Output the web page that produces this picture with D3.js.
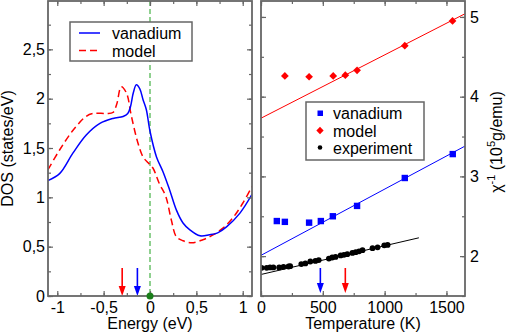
<!DOCTYPE html>
<html>
<head>
<meta charset="utf-8">
<script src="https://cdn.jsdelivr.net/npm/d3@7"></script>
<style>
  body { margin: 0; background: #fff; }
  svg text { font-family: "Liberation Sans", Arial, Helvetica, sans-serif; }
</style>
</head>
<body>
<div id="viz"></div>
<script>
// ---- Data: DOS panel ----
const vanEnergy = [-1.1, -0.975, -0.83, -0.69, -0.54, -0.40, -0.29, -0.24, -0.21, -0.18, -0.147, -0.11, -0.075, -0.04, 0, 0.07, 0.14, 0.21, 0.285, 0.356, 0.43, 0.54, 0.64, 0.73, 0.825, 0.97, 1.1];
const vanDos    = [1.17, 1.24, 1.45, 1.63, 1.75, 1.80, 1.82, 1.85, 1.92, 2.06, 2.14, 2.10, 1.99, 1.89, 1.67, 1.41, 1.26, 1.08, 0.87, 0.74, 0.67, 0.61, 0.62, 0.64, 0.70, 0.84, 1.03];
const modEnergy = [-1.1, -0.975, -0.83, -0.69, -0.615, -0.47, -0.40, -0.36, -0.31, -0.255, -0.2, -0.13, -0.075, -0.02, 0.03, 0.10, 0.17, 0.23, 0.285, 0.356, 0.45, 0.57, 0.68, 0.79, 0.90, 1.0, 1.1];
const modDos    = [1.28, 1.48, 1.68, 1.82, 1.85, 1.85, 1.86, 1.94, 2.12, 2.06, 1.82, 1.55, 1.41, 1.35, 1.30, 1.14, 1.01, 0.77, 0.60, 0.56, 0.54, 0.57, 0.62, 0.69, 0.80, 0.94, 1.11];
const dosArrowE = [-0.30, -0.136];          // model, vanadium
const fermiE = 0;
const dosXTicks = [-1, -0.5, 0, 0.5, 1];
const dosYTicks = [0, 0.5, 1, 1.5, 2, 2.5];

// ---- Data: susceptibility panel ----
const vanT   = [128, 193, 389, 484, 581, 777, 1163, 1551];
const vanChi = [2.44, 2.43, 2.42, 2.44, 2.50, 2.63, 2.98, 3.28];
const modT   = [193, 389, 584, 682, 777, 1163, 1549];
const modChi = [4.26, 4.25, 4.26, 4.27, 4.33, 4.64, 4.95];
const expT   = [5, 46, 73, 100, 147, 182, 223, 236, 326, 359, 399, 440, 467, 549, 576, 603, 644, 671, 698, 739, 766, 793, 821, 902, 943, 997, 1024];
const expChi = [1.854, 1.854, 1.858, 1.858, 1.858, 1.866, 1.870, 1.874, 1.90, 1.908, 1.933, 1.94, 1.95, 1.97, 1.983, 1.99, 2.009, 2.017, 2.025, 2.04, 2.05, 2.06, 2.075, 2.10, 2.11, 2.135, 2.14];
const vanFitT = [0, 1650], vanFitChi = [2.01, 3.38];
const modFitT = [0, 1650], modFitChi = [3.73, 5.04];
const expFitT = [0, 1277], expFitChi = [1.77, 2.23];
const chiArrowT = [480, 682];               // vanadium, model
const tXTicks = [0, 500, 1000, 1500];
const chiYTicks = [2, 3, 4, 5];

// ---- Setup ----
const W = 507, H = 336;
const BLUE = "#0000ff", RED = "#ff0000", AXIS = "#666";
const fmt = d => String(d).replace(".", ",");

const svg = d3.select("#viz").append("svg")
  .attr("width", W).attr("height", H)
  .style("background", "#fff");

const defs = svg.append("defs");

// scales
const xE = d3.scaleLinear().domain([-1.1, 1.1]).range([48, 252]);
const yD = d3.scaleLinear().domain([0, 2.99]).range([296, 1]);
const xT = d3.scaleLinear().domain([0, 1650]).range([261, 465]);
const yC = d3.scaleLinear().domain([1.5, 5.2]).range([296, 1]);

// --- helpers ---
function styleAxis(g) {
  g.select(".domain").remove();
  g.selectAll("line").attr("stroke", AXIS).attr("stroke-width", 1.2);
  g.selectAll("text").attr("font-size", 16).attr("fill", "#000")
    .attr("font-family", "'Liberation Sans', Arial, sans-serif");
}
function range(a, b, s) { return d3.range(a, b + s / 2, s); }

function frameAxes(x, y, opt) {
  const [x0, x1] = x.range(), [y0, y1] = y.range();
  const g = svg.append("g");
  // bottom
  g.append("g").attr("transform", `translate(0,${y0})`)
    .call(d3.axisBottom(x).tickValues(opt.xMinor).tickSize(-3).tickFormat("")).call(styleAxis);
  g.append("g").attr("transform", `translate(0,${y0})`)
    .call(d3.axisBottom(x).tickValues(opt.xMajor).tickSize(-5).tickPadding(6).tickFormat(opt.xFmt)).call(styleAxis);
  // top
  g.append("g").attr("transform", `translate(0,${y1})`)
    .call(d3.axisTop(x).tickValues(opt.xMinor).tickSize(-3).tickFormat("")).call(styleAxis);
  g.append("g").attr("transform", `translate(0,${y1})`)
    .call(d3.axisTop(x).tickValues(opt.xMajor).tickSize(-5).tickFormat("")).call(styleAxis);
  // left
  g.append("g").attr("transform", `translate(${x0},0)`)
    .call(d3.axisLeft(y).tickValues(opt.yMinor).tickSize(-3).tickFormat("")).call(styleAxis);
  g.append("g").attr("transform", `translate(${x0},0)`)
    .call(d3.axisLeft(y).tickValues(opt.yMajor).tickSize(-5).tickPadding(3)
      .tickFormat(opt.labelsLeft ? opt.yFmt : "")).call(styleAxis);
  // right
  g.append("g").attr("transform", `translate(${x1},0)`)
    .call(d3.axisRight(y).tickValues(opt.yMinor).tickSize(-3).tickFormat("")).call(styleAxis);
  g.append("g").attr("transform", `translate(${x1},0)`)
    .call(d3.axisRight(y).tickValues(opt.yMajor).tickSize(-5).tickPadding(5)
      .tickFormat(opt.labelsLeft ? "" : opt.yFmt)).call(styleAxis);
  // frame
  g.append("rect").attr("x", x0).attr("y", y1).attr("width", x1 - x0).attr("height", y0 - y1)
    .attr("fill", "none").attr("stroke", AXIS).attr("stroke-width", 1.8);
}

function clip(id, x, y) {
  defs.append("clipPath").attr("id", id).append("rect")
    .attr("x", x.range()[0]).attr("y", y.range()[1])
    .attr("width", x.range()[1] - x.range()[0]).attr("height", y.range()[0] - y.range()[1]);
}
clip("clipL", xE, yD);
clip("clipR", xT, yC);

function arrow(g, x, yTop, yBot, color) {
  g.append("line").attr("x1", x).attr("x2", x).attr("y1", yTop).attr("y2", yBot - 8)
    .attr("stroke", color).attr("stroke-width", 1.6);
  g.append("path").attr("d", `M${x - 3.5},${yBot - 10}L${x + 3.5},${yBot - 10}L${x},${yBot}Z`)
    .attr("fill", color);
}

// ================= Left panel: DOS =================
const gL = svg.append("g").attr("clip-path", "url(#clipL)");

gL.append("line")
  .attr("x1", xE(fermiE)).attr("x2", xE(fermiE))
  .attr("y1", yD.range()[1]).attr("y2", yD.range()[0])
  .attr("stroke", "#8fd08f").attr("stroke-width", 2).attr("stroke-dasharray", "5,3");

const lineL = d3.line().curve(d3.curveCatmullRom.alpha(0.5));
gL.append("path")
  .attr("d", lineL(modEnergy.map((e, i) => [xE(e), yD(modDos[i])])))
  .attr("fill", "none").attr("stroke", RED).attr("stroke-width", 1.5).attr("stroke-dasharray", "7,4");
gL.append("path")
  .attr("d", lineL(vanEnergy.map((e, i) => [xE(e), yD(vanDos[i])])))
  .attr("fill", "none").attr("stroke", BLUE).attr("stroke-width", 1.5);

const gLA = svg.append("g");
arrow(gLA, xE(dosArrowE[0]), 268, 296, RED);
arrow(gLA, xE(dosArrowE[1]), 268, 296, BLUE);

frameAxes(xE, yD, {
  xMajor: dosXTicks, xMinor: range(-1, 1, 0.25), xFmt: fmt,
  yMajor: dosYTicks, yMinor: range(0, 2.75, 0.25), yFmt: fmt, labelsLeft: true
});

svg.append("circle").attr("cx", xE(fermiE)).attr("cy", yD(0)).attr("r", 3.5).attr("fill", "#1a7f1a");

// legend left
const lgL = svg.append("g");
lgL.append("rect").attr("x", 70).attr("y", 22).attr("width", 122).attr("height", 39)
  .attr("fill", "#fff").attr("stroke", AXIS).attr("stroke-width", 1.5);
lgL.append("line").attr("x1", 79).attr("x2", 100).attr("y1", 33).attr("y2", 33)
  .attr("stroke", BLUE).attr("stroke-width", 1.5);
lgL.append("line").attr("x1", 79).attr("x2", 100).attr("y1", 50.5).attr("y2", 50.5)
  .attr("stroke", RED).attr("stroke-width", 1.5).attr("stroke-dasharray", "7,4");
lgL.append("text").attr("x", 112).attr("y", 39).attr("font-size", 16).text("vanadium");
lgL.append("text").attr("x", 112).attr("y", 56.5).attr("font-size", 16).text("model");

// axis titles left
svg.append("text").attr("x", 150).attr("y", 329).attr("text-anchor", "middle")
  .attr("font-size", 16).text("Energy (eV)");
svg.append("text").attr("transform", "translate(13,148.5) rotate(-90)").attr("text-anchor", "middle")
  .attr("font-size", 16).text("DOS (states/eV)");

// ================= Right panel: susceptibility =================
const gR = svg.append("g").attr("clip-path", "url(#clipR)");
const lineR = d3.line().x(d => xT(d[0])).y(d => yC(d[1]));
const fits = [[vanFitT, vanFitChi, BLUE], [modFitT, modFitChi, RED], [expFitT, expFitChi, "#000"]];
fits.forEach(([t, c, col]) => {
  gR.append("path").attr("d", lineR(t.map((v, i) => [v, c[i]])))
    .attr("fill", "none").attr("stroke", col).attr("stroke-width", 1);
});

gR.selectAll(".exp").data(expT).join("circle")
  .attr("cx", d => xT(d)).attr("cy", (d, i) => yC(expChi[i])).attr("r", 2.9).attr("fill", "#000");
gR.selectAll(".van").data(vanT).join("rect")
  .attr("x", d => xT(d) - 3.2).attr("y", (d, i) => yC(vanChi[i]) - 3.2)
  .attr("width", 6.4).attr("height", 6.4).attr("fill", BLUE);
const diamond = d3.symbol().type(d3.symbolDiamond2).size(38);
gR.selectAll(".mod").data(modT).join("path")
  .attr("transform", (d, i) => `translate(${xT(d)},${yC(modChi[i])})`)
  .attr("d", diamond).attr("fill", RED);

const gRA = svg.append("g");
arrow(gRA, xT(chiArrowT[0]), 268, 293, BLUE);
arrow(gRA, xT(chiArrowT[1]), 268, 293, RED);

frameAxes(xT, yC, {
  xMajor: tXTicks, xMinor: range(0, 1500, 250), xFmt: d => d,
  yMajor: chiYTicks, yMinor: range(1.5, 5, 0.5), yFmt: d => d, labelsLeft: false
});

// legend right
const lgR = svg.append("g");
lgR.append("rect").attr("x", 306).attr("y", 102).attr("width", 118).attr("height", 58)
  .attr("fill", "#fff").attr("stroke", AXIS).attr("stroke-width", 1.5);
lgR.append("rect").attr("x", 317.5).attr("y", 110.5).attr("width", 5.5).attr("height", 5.5).attr("fill", BLUE);
lgR.append("path").attr("transform", "translate(320,130.5)").attr("d", d3.symbol().type(d3.symbolDiamond2).size(34)).attr("fill", RED);
lgR.append("circle").attr("cx", 320).attr("cy", 147.5).attr("r", 2.3).attr("fill", "#000");
lgR.append("text").attr("x", 333).attr("y", 119).attr("font-size", 16).text("vanadium");
lgR.append("text").attr("x", 333).attr("y", 136.5).attr("font-size", 16).text("model");
lgR.append("text").attr("x", 333).attr("y", 153.5).attr("font-size", 16).text("experiment");

svg.append("text").attr("x", 363).attr("y", 329).attr("text-anchor", "middle")
  .attr("font-size", 16).text("Temperature (K)");
const yl = svg.append("text").attr("transform", "translate(502,142) rotate(-90)")
  .attr("text-anchor", "middle").attr("font-size", 16);
yl.append("tspan").text("χ");
yl.append("tspan").attr("font-size", 11).attr("dy", -7).text("-1");
yl.append("tspan").attr("dy", 7).text(" (10");
yl.append("tspan").attr("font-size", 11).attr("dy", -7).text("5");
yl.append("tspan").attr("dy", 7).text("g/emu)");
</script>
</body>
</html>
